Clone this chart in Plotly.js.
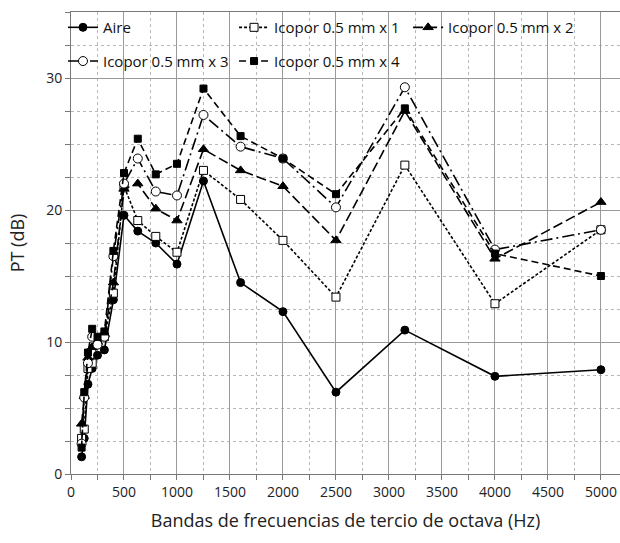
<!DOCTYPE html>
<html>
<head>
<meta charset="utf-8">
<script src="https://cdn.plot.ly/plotly-3.0.1.min.js"></script>
<style>html,body{margin:0;padding:0;background:#fff;}#chart{width:620px;height:543px;}</style>
</head>
<body>
<div id="chart"></div>
<script>
const freqs = [100, 125, 160, 200, 250, 315, 400, 500, 630, 800, 1000, 1250, 1600, 2000, 2500, 3150, 4000, 5000];
const seriesNames = ["Aire", "Icopor 0.5 mm x 1", "Icopor 0.5 mm x 2", "Icopor 0.5 mm x 3", "Icopor 0.5 mm x 4"];
const aire   = [1.3, 2.7, 6.8, 8.0, 9.0, 9.4, 13.2, 19.6, 18.4, 17.5, 15.9, 22.2, 14.5, 12.3, 6.2, 10.9, 7.4, 7.9];
const icop1  = [2.7, 3.4, 8.0, 8.4, 9.9, 10.4, 13.7, 21.8, 19.2, 18.0, 16.8, 23.0, 20.8, 17.7, 13.4, 23.4, 12.9, 18.5];
const icop2  = [3.8, 5.9, 8.8, 9.6, 10.0, 10.6, 14.5, 21.6, 22.0, 20.1, 19.2, 24.6, 23.0, 21.8, 17.7, 27.5, 16.3, 20.6];
const icop3  = [2.3, 5.8, 8.4, 10.4, 9.8, 10.4, 16.5, 22.0, 23.9, 21.4, 21.1, 27.2, 24.8, 23.9, 20.2, 29.3, 17.0, 18.5];
const icop4  = [2.0, 6.2, 9.2, 11.0, 10.4, 10.8, 16.9, 22.8, 25.4, 22.7, 23.5, 29.2, 25.6, 23.9, 21.2, 27.7, 16.7, 15.0];
const xTitle = "Bandas de frecuencias de tercio de octava (Hz)";
const yTitle = "PT (dB)";

const values = [aire, icop1, icop2, icop3, icop4];
const styles = [
  {dash: "solid", symbol: "circle", size: 8, fill: "#000"},
  {dash: "3px,2px", symbol: "square", size: 8, fill: "#fff"},
  {dash: "10px,4px", symbol: "triangle-up", size: 9, fill: "#000"},
  {dash: "12px,4px,2px,4px", symbol: "circle", size: 9, fill: "#fff"},
  {dash: "7px,4px", symbol: "square", size: 7, fill: "#000"}
];
const legendIds = ["legend", "legend2", "legend3", "legend4", "legend5"];
const legendPos = [[-0.0146, 1.002], [0.297, 1.002], [0.614, 1.002], [-0.0146, 0.929], [0.297, 0.929]];

const traces = values.map((v, i) => ({
  x: freqs, y: v, name: seriesNames[i], type: "scatter", mode: "lines+markers",
  legend: legendIds[i],
  line: {color: "#000", width: 1.6, dash: styles[i].dash},
  marker: {symbol: styles[i].symbol, size: styles[i].size, color: styles[i].fill,
           line: {color: "#000", width: 1}}
}));

const font = "'Open Sans', 'Noto Sans', sans-serif";
const layout = {
  width: 620, height: 543,
  margin: {l: 71, r: 0, t: 12, b: 69},
  paper_bgcolor: "#fff", plot_bgcolor: "#fff",
  font: {family: font, color: "#222", size: 14},
  showlegend: true,
  xaxis: {
    range: [0, 5180], dtick: 500, tick0: 0, ticks: "outside", ticklen: 5, tickcolor: "#777",
    showline: true, linecolor: "#777", linewidth: 1, mirror: true,
    showgrid: true, gridcolor: "#9a9a9a", gridwidth: 1, zeroline: false,
    tickfont: {size: 14, color: "#222"},
    minor: {dtick: 250, ticks: "outside", ticklen: 5, tickcolor: "#777", showgrid: true,
            gridcolor: "#b8b8b8", griddash: "3px,3px", gridwidth: 1},
    title: {text: xTitle, font: {size: 18, color: "#222"}, standoff: 14}
  },
  yaxis: {
    range: [0, 35], dtick: 10, tick0: 0, ticks: "outside", ticklen: 5, tickcolor: "#777",
    showline: true, linecolor: "#777", linewidth: 1,
    showgrid: true, gridcolor: "#9a9a9a", gridwidth: 1, zeroline: false,
    tickfont: {size: 14, color: "#222"},
    minor: {dtick: 2.5, ticks: "outside", ticklen: 5, tickcolor: "#777", showgrid: true,
            gridcolor: "#b8b8b8", griddash: "3px,3px", gridwidth: 1},
    title: {text: yTitle, font: {size: 18, color: "#222"}, standoff: 16}
  },
  shapes: [{type: "rect", layer: "between", xref: "paper", yref: "y",
            x0: 0.002, x1: 1, y0: 30.08, y1: 34.95, fillcolor: "#fff", line: {width: 0}}]
};
legendIds.forEach((id, i) => {
  layout[id] = {x: legendPos[i][0], y: legendPos[i][1], xanchor: "left", yanchor: "top",
                orientation: "h", bgcolor: "rgba(0,0,0,0)", itemwidth: 30,
                font: {family: font, size: 15, color: "#111"}};
});

Plotly.newPlot("chart", traces, layout, {displayModeBar: false, staticPlot: true});
</script>
</body>
</html>
